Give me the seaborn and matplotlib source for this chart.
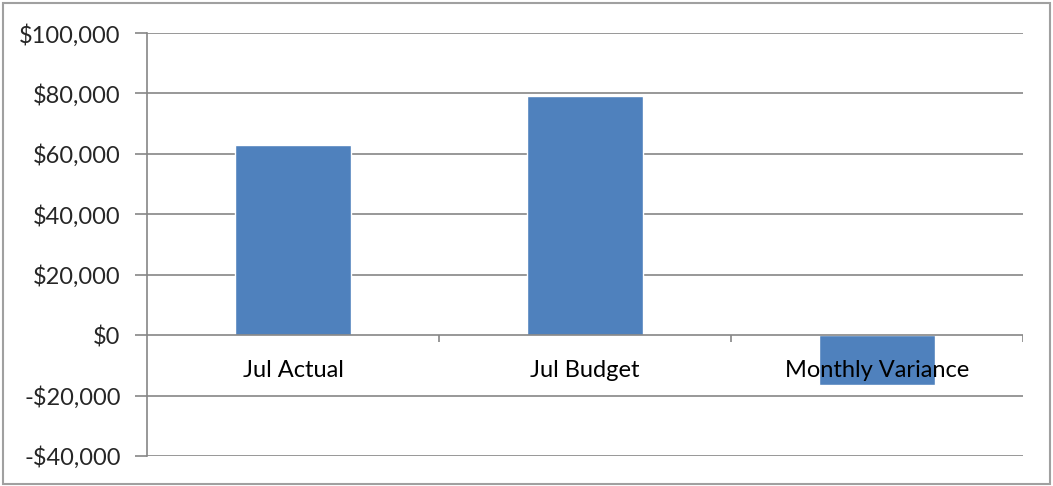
import pandas as pd
import seaborn as sns
import matplotlib
matplotlib.use("Agg")
import matplotlib.pyplot as plt
from matplotlib.patches import Rectangle
from matplotlib.ticker import FuncFormatter

categories = ["Jul Actual", "Jul Budget", "Monthly Variance"]
amounts = [63000, 79200, -16600]
y_ticks = [-40000, -20000, 0, 20000, 40000, 60000, 80000, 100000]

sns.set_theme(style="white")
plt.rcParams["font.family"] = ["Lato", "DejaVu Sans"]

df = pd.DataFrame({"category": categories, "amount": amounts})

fig = plt.figure(figsize=(10.53, 4.86), dpi=100)
ax = fig.add_axes([0.1396, 0.0617, 0.9715 - 0.1396, 0.932 - 0.0617])

sns.barplot(data=df, x="category", y="amount", color="#4F81BD", saturation=1,
            width=0.4, ax=ax, zorder=3)

ax.set_ylim(-40000, 100000)
ax.set_xlim(-0.5, 2.5)
ax.set_yticks(y_ticks)
ax.yaxis.set_major_formatter(FuncFormatter(
    lambda v, p: f"-${abs(v):,.0f}" if v < 0 else f"${v:,.0f}"))
ax.tick_params(axis="y", labelsize=17, length=9, width=1.2, color="#868686",
               pad=10, left=True)
ax.set_xticks([])
ax.set_xlabel("")
ax.set_ylabel("")

for y in y_ticks:
    if y != 0:
        ax.axhline(y, color="#868686", lw=1.2, zorder=1)
# category axis crossing at zero
ax.axhline(0, color="#868686", lw=1.2, zorder=4)
ax.vlines([0.5, 1.5, 2.5], -2300, 0, color="#868686", lw=1.2, zorder=4)

for i, name in enumerate(categories):
    ax.annotate(name, (i, 0), xytext=(0, -18), textcoords="offset points",
                ha="center", va="top", fontsize=17, color="black", zorder=5)

for side in ["top", "right", "bottom"]:
    ax.spines[side].set_visible(False)
ax.spines["left"].set_color("#868686")
ax.spines["left"].set_linewidth(1.2)

fig.patches.append(Rectangle((3 / 1053, 2 / 486), 1047 / 1053, 481 / 486,
                             transform=fig.transFigure, fill=False,
                             edgecolor="#A0A0A0", lw=1.5))

fig.savefig("out.png", dpi=100)
